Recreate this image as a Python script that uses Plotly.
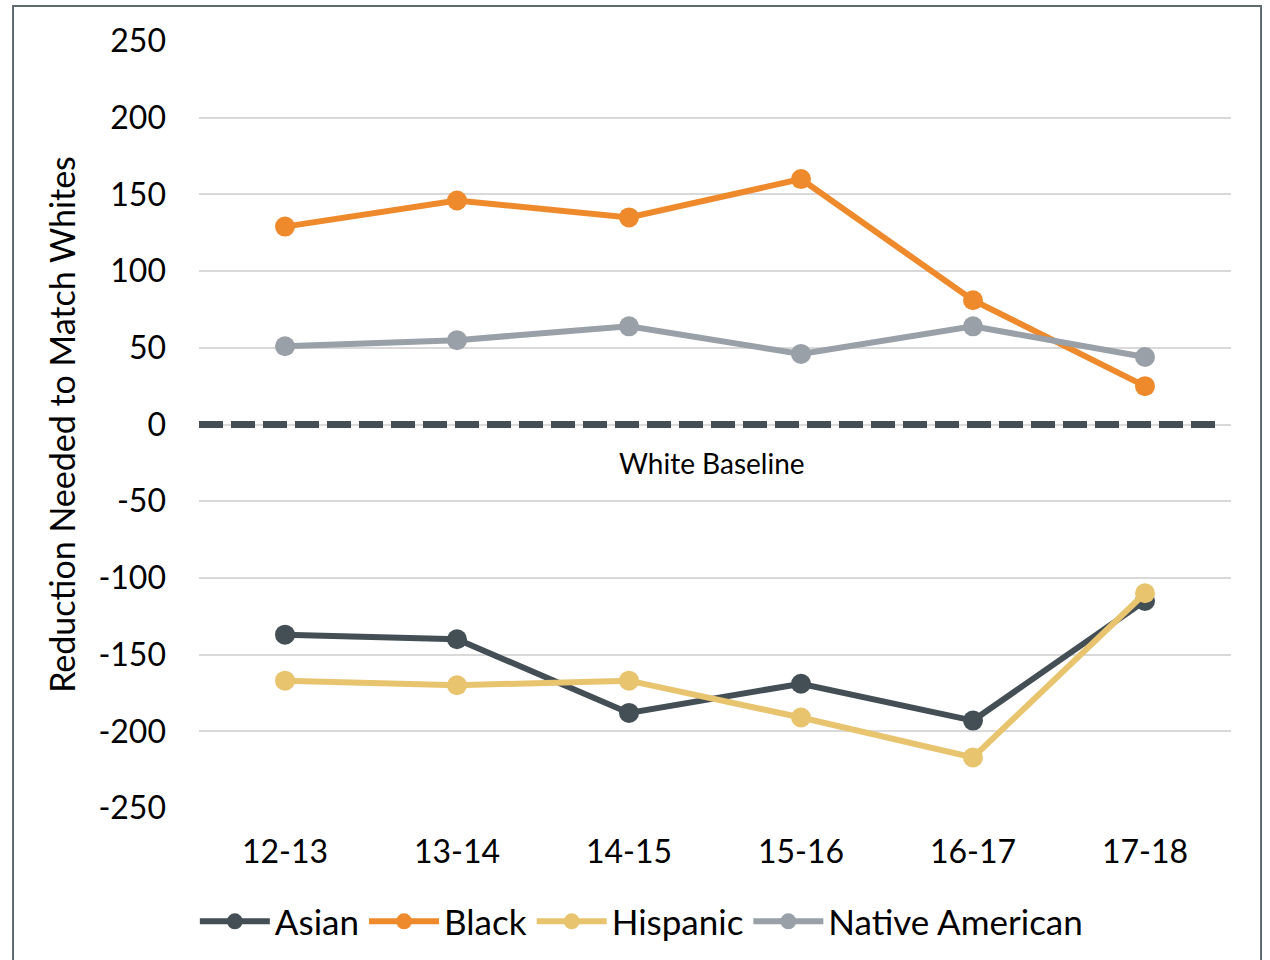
import plotly.graph_objects as go

categories = ["12-13", "13-14", "14-15", "15-16", "16-17", "17-18"]
asian = [-137, -140, -188, -169, -193, -115]
black = [129, 146, 135, 160, 81, 25]
hispanic = [-167, -170, -167, -191, -217, -110]
native_american = [51, 55, 64, 46, 64, 44]

y_tick_values = [-250, -200, -150, -100, -50, 0, 50, 100, 150, 200, 250]
y_tick_labels = ["-250", "-200", "-150", "-100", "-50", "0", "50", "100", "150", "200", "250"]

series = [
    ("Asian", asian, "#434E55"),
    ("Black", black, "#EE8A2C"),
    ("Hispanic", hispanic, "#E8C46E"),
    ("Native American", native_american, "#99A0A7"),
]

FONT = "Lato, 'Open Sans', sans-serif"

fig = go.Figure()
for name, vals, color in series:
    fig.add_trace(go.Scatter(
        x=categories, y=vals, name=name, mode="lines+markers",
        line=dict(color=color, width=6),
        marker=dict(color=color, size=20),
    ))

# baseline at zero
fig.add_shape(type="line", xref="x", yref="y", x0=-0.5, x1=5.42, y0=0, y1=0,
              line=dict(color="#434E55", width=7, dash="24px,8px"), layer="above")
fig.add_annotation(text="White Baseline", x=2.48, y=-25, xref="x", yref="y",
                   showarrow=False, font=dict(family=FONT, size=28, color="#000"))

# outer border
fig.add_shape(type="rect", xref="paper", yref="paper",
              x0=-0.1802, x1=1.0291, y0=-0.25, y1=1.0456,
              line=dict(color="#5F6A70", width=2), layer="below")

fig.update_layout(
    width=1270, height=960,
    margin=dict(l=199, r=39, t=41, b=152),
    paper_bgcolor="white", plot_bgcolor="white",
    font=dict(family=FONT, color="#000"),
    showlegend=True,
    legend=dict(orientation="h", xref="container", x=0.505, xanchor="center",
                yref="container", y=0.04, yanchor="middle",
                font=dict(family=FONT, size=35, color="#000"),
                itemwidth=70, tracegroupgap=0),
    xaxis=dict(type="category", range=[-0.5, 5.5], showgrid=False, zeroline=False,
               showline=False, ticks="", tickfont=dict(size=32, family=FONT),
               ticklabelstandoff=22),
    yaxis=dict(range=[-250, 250], tickmode="array", tickvals=y_tick_values,
               ticktext=y_tick_labels, showgrid=True, gridcolor="#D9D9D9",
               gridwidth=2, zeroline=False, showline=False, ticks="",
               tickfont=dict(size=32, family=FONT), ticklabelstandoff=32,
               title=dict(text="Reduction Needed to Match Whites",
                          font=dict(size=34, family=FONT), standoff=12)),
)

fig.write_html("out.html")
